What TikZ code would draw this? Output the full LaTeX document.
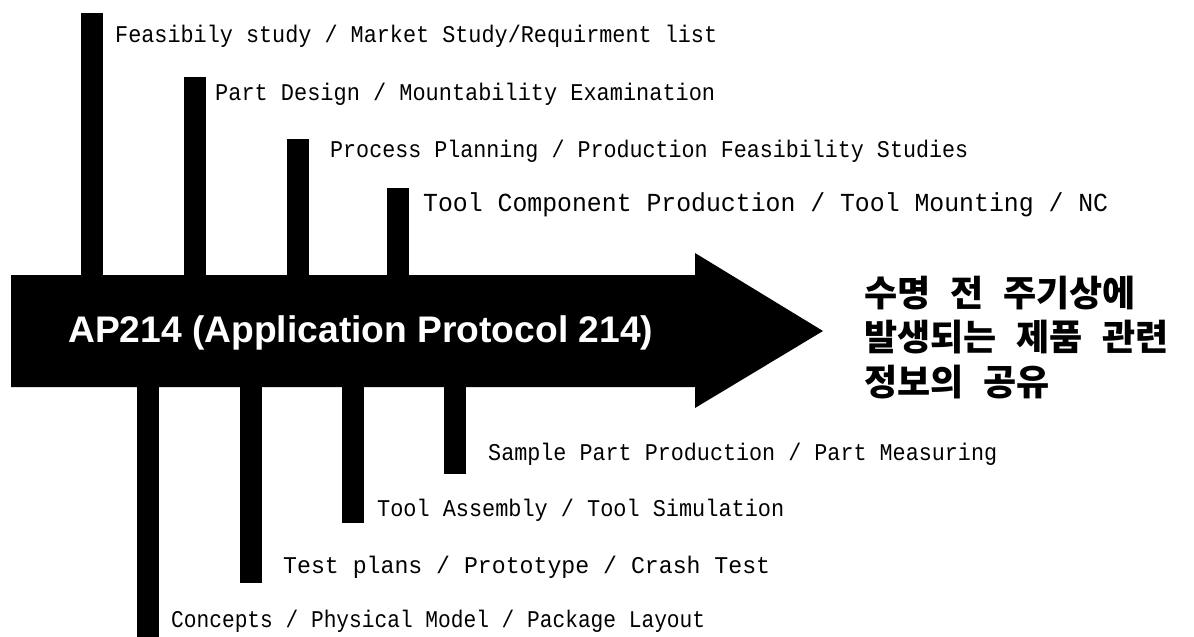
\documentclass[tikz,border=0pt]{standalone}
\usepackage{fontspec}
\usepackage{graphicx}
\setmainfont{Liberation Sans}
\newfontfamily\labfont{Liberation Mono}
\newfontfamily\krfont{Noto Sans CJK KR}
\newcommand\kgap{\hspace{0.55em}}
\begin{document}
\begin{tikzpicture}[x=1pt,y=-1pt,
  bar/.style={fill=black, draw=none, inner sep=0pt, minimum width=22pt},
  lab/.style={anchor=base west, inner sep=0pt, font=\labfont\fontsize{24}{28}\selectfont},
  labbig/.style={lab, font=\labfont\fontsize{26}{30}\selectfont},
  kr/.style={anchor=west, inner sep=0pt, font=\krfont\bfseries\fontsize{36}{44}\selectfont},
  title/.style={anchor=base west, inner sep=0pt, text=white, font=\bfseries\fontsize{37}{44}\selectfont}]
\useasboundingbox (0,0) rectangle (1194,637);
\fill[white] (0,0) rectangle (1194,637);

% main arrow
\coordinate (tl) at (11,275);
\coordinate (hb1) at (695,275);
\coordinate (ht) at (695,253);
\coordinate (tip) at (823,331);
\coordinate (hb2) at (695,408);
\coordinate (hb3) at (695,387);
\coordinate (bl) at (11,387);
\fill[black] (tl) -- (hb1) -- (ht) -- (tip) -- (hb2) -- (hb3) -- (bl) -- cycle;

% upper bars
\node[bar, anchor=north west, minimum height=264pt] (b1) at (81,13) {};
\node[bar, anchor=north west, minimum height=200pt] (b2) at (184,77) {};
\node[bar, anchor=north west, minimum height=138pt] (b3) at (287,139) {};
\node[bar, anchor=north west, minimum height=89pt] (b4) at (387,188) {};

% lower bars
\node[bar, anchor=north west, minimum height=252pt] (b5) at (137,385) {};
\node[bar, anchor=north west, minimum height=198pt] (b6) at (240,385) {};
\node[bar, anchor=north west, minimum height=138pt] (b7) at (342,385) {};
\node[bar, anchor=north west, minimum height=89pt] (b8) at (444,385) {};

% upper labels
\node[lab] (l1) at (115,42) {\resizebox{602pt}{\height}{Feasibily study / Market Study/Requirment list}};
\node[lab] (l2) at (215,100) {\resizebox{500pt}{\height}{Part Design / Mountability Examination}};
\node[lab] (l3) at (330,157) {\resizebox{638pt}{\height}{Process Planning / Production Feasibility Studies}};
\node[labbig] (l4) at (423,211) {\resizebox{685pt}{\height}{Tool Component Production / Tool Mounting / NC}};

% lower labels
\node[lab] (l5) at (488,460) {\resizebox{509pt}{\height}{Sample Part Production / Part Measuring}};
\node[lab] (l6) at (377,516) {\resizebox{407pt}{\height}{Tool Assembly / Tool Simulation}};
\node[lab] (l7) at (283,573) {\resizebox{487pt}{\height}{Test plans / Prototype / Crash Test}};
\node[lab] (l8) at (171,627) {\resizebox{534pt}{\height}{Concepts / Physical Model / Package Layout}};

% title in arrow
\node[title] (ap) at (68,342) {\resizebox{585pt}{\height}{AP214 (Application Protocol 214)}};

% Korean text
\node[kr] (k1) at (864,293) {수명\kgap 전\kgap 주기상에};
\node[kr] (k2) at (864,337) {발생되는\kgap 제품\kgap 관련};
\node[kr] (k3) at (864,382) {정보의\kgap 공유};
\end{tikzpicture}
\end{document}
